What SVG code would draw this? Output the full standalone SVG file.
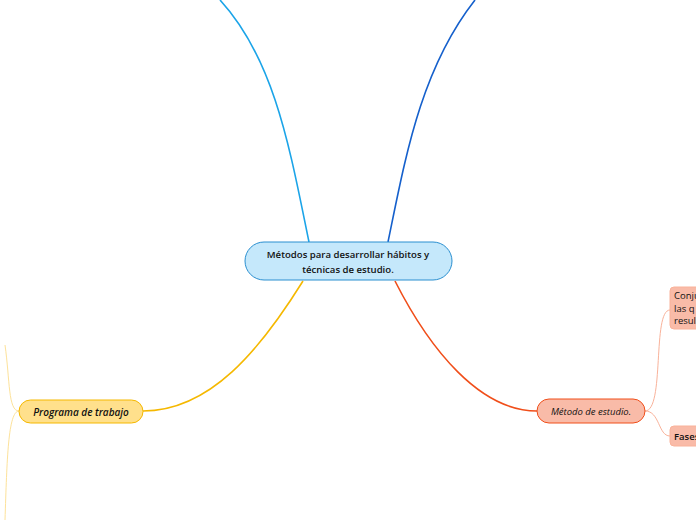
<svg xmlns="http://www.w3.org/2000/svg" width="696" height="520" viewBox="0 0 696 520">
<style>
.t{font-family:"Open Sans","Noto Sans","Liberation Sans",sans-serif;fill:#111;}
.c{fill:none;}
</style>
<rect width="696" height="520" fill="#ffffff"/>
<g id="connectors">
<path class="c" d="M309,242 C290,150 275,60 220,0" stroke="#1ba4e8" stroke-width="1.6"/>
<path class="c" d="M388,242 C405,160 420,70 475,0" stroke="#1560cc" stroke-width="1.6"/>
<path class="c" d="M303,281 C260,350 210,411 143,411" stroke="#f5b800" stroke-width="1.6"/>
<path class="c" d="M395,281 C430,350 480,411 537,411" stroke="#f04e1a" stroke-width="1.6"/>
<path class="c" d="M19,411 C8,411 10,380 5,345" stroke="#fde29a" stroke-width="1"/>
<path class="c" d="M19,411 C8,411 7,460 5,520" stroke="#fde29a" stroke-width="1"/>
<path class="c" d="M645,411 C665,411 652,310 670,310" stroke="#f9b29a" stroke-width="1"/>
<path class="c" d="M645,411 C660,411 658,436 670,436" stroke="#f9b29a" stroke-width="1"/>
</g>
<g id="central">
<rect x="245" y="242" width="207" height="38" rx="19" fill="#c5e8fb" stroke="#2a8fd0" stroke-width="1"/>
<text class="t" x="348" y="258" font-size="9.6" font-weight="600" text-anchor="middle">Métodos para desarrollar hábitos y</text>
<text class="t" x="348" y="273" font-size="9.6" font-weight="600" text-anchor="middle">técnicas de estudio.</text>
</g>
<g id="programa">
<rect x="19" y="400" width="124" height="23" rx="11.5" fill="#ffe08c" stroke="#f5b800" stroke-width="1"/>
<text class="t" x="81" y="415.5" font-size="10" font-weight="600" font-style="italic" text-anchor="middle">Programa de trabajo</text>
</g>
<g id="metodo">
<rect x="537" y="399" width="108" height="24" rx="12" fill="#f9bba8" stroke="#f04e1a" stroke-width="1"/>
<text class="t" x="591" y="414.5" font-size="9.5" font-weight="500" font-style="italic" text-anchor="middle">Método de estudio.</text>
</g>
<g id="conjunto">
<rect x="670" y="287" width="40" height="42" rx="4" fill="#f9bba8" stroke="#f9b29a" stroke-width="1"/>
<text class="t" x="674" y="299" font-size="9.5">Conju</text>
<text class="t" x="674" y="312" font-size="9.5">las q</text>
<text class="t" x="674" y="324" font-size="9.5">resul</text>
</g>
<g id="fases">
<rect x="670" y="426" width="40" height="20" rx="4" fill="#f9bba8" stroke="#f9b29a" stroke-width="1"/>
<text class="t" x="674" y="440" font-size="9.5" font-weight="600">Fases</text>
</g>
</svg>
